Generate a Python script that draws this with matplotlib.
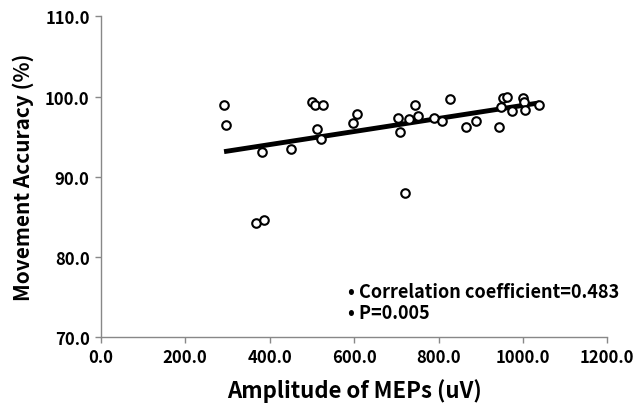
import matplotlib.pyplot as plt
import numpy as np

plt.rcParams['font.family'] = ['Noto Sans CJK KR', 'DejaVu Sans']

# amplitude of MEPs (uV) and movement accuracy (%)
mep = [292, 297, 383, 367, 386, 451, 500, 507, 527, 513, 521, 597, 606,
       703, 708, 720, 731, 744, 752, 790, 808, 828, 866, 889, 943, 948,
       952, 963, 974, 1001, 1002, 1004, 1039]
accuracy = [99.0, 96.4, 93.1, 84.2, 84.6, 93.5, 99.3, 99.0, 99.0, 96.0, 94.7,
            96.7, 97.8, 97.3, 95.6, 88.0, 97.2, 99.0, 97.55, 97.35, 96.9, 99.75,
            96.25, 97.0, 96.2, 98.7, 99.8, 100.0, 98.2, 99.8, 99.3, 98.3, 99.0]

x_ticks = [0, 200, 400, 600, 800, 1000, 1200]
y_ticks = [70, 80, 90, 100, 110]
stats_text = ["Correlation coefficient=0.483", "P=0.005"]

fig = plt.figure(figsize=(6.34, 4.06), dpi=100)
ax = fig.add_axes([0.159, 0.168, 0.799, 0.789])

x = np.array(mep, dtype=float)
y = np.array(accuracy)

# linear trendline
slope, intercept = np.polyfit(x, y, 1)
xs = np.array([x.min(), x.max()])
ax.plot(xs, slope * xs + intercept, color="black", lw=3.5, solid_capstyle="butt", zorder=2)

ax.scatter(x, y, s=38, facecolors="white", edgecolors="black", linewidths=1.5, zorder=3)

ax.set_xlim(0, 1200)
ax.set_ylim(70, 110)
ax.set_xticks(x_ticks)
ax.set_yticks(y_ticks)
ax.set_xticklabels([f"{v:.1f}" for v in x_ticks], fontsize=12, fontweight="bold")
ax.set_yticklabels([f"{v:.1f}" for v in y_ticks], fontsize=12, fontweight="bold")

for side in ["top", "right"]:
    ax.spines[side].set_visible(False)
for side in ["left", "bottom"]:
    ax.spines[side].set_color("#888888")
    ax.spines[side].set_linewidth(1.0)
ax.tick_params(direction="out", length=4, color="#888888", width=1.0, pad=4)

ax.set_xlabel("Amplitude of MEPs (uV)", fontsize=16, fontweight="bold", labelpad=9)
ax.set_ylabel("Movement Accuracy (%)", fontsize=15, fontweight="bold", labelpad=8)

for i, t in enumerate(stats_text):
    ax.text(585, 75.7 - i * 2.7, "\u2022 " + t, fontsize=13, fontweight="bold",
            va="center", ha="left")

fig.savefig("out.png", dpi=100)
